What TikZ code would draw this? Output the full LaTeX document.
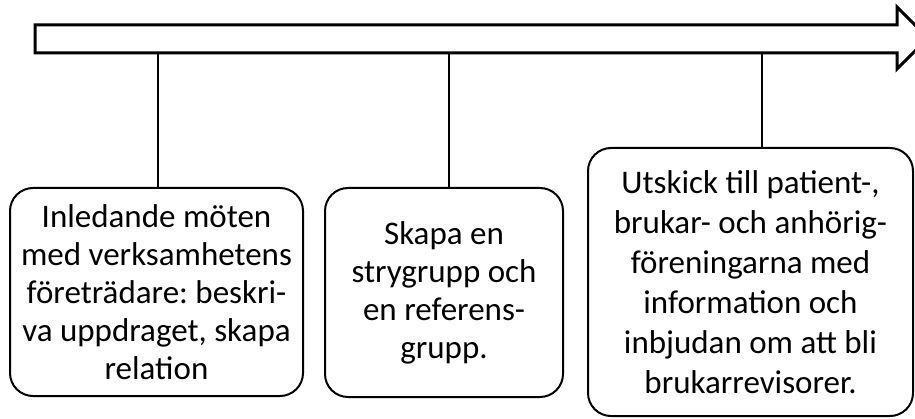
\documentclass[tikz,border=0pt]{standalone}
\usepackage{fontspec}
\setmainfont{Carlito}
\frenchspacing
\begin{document}
\begin{tikzpicture}[x=1pt,y=-1pt,
  stepbox/.style={draw, line width=2pt, rounded corners=23pt, align=center,
    inner sep=0pt, font=\fontsize{33}{38}\selectfont},
  tick/.style={draw, line width=1.2pt}]
\useasboundingbox (0,0) rectangle (915,419);
\clip (0,0) rectangle (915,419);
% timeline arrow
\draw[line width=3pt, line join=miter] (35,25) -- (897,25) -- (897,7) -- (928,38)
  -- (897,69) -- (897,53) -- (35,53) -- cycle;
% steps
\node[stepbox, minimum width=293pt, minimum height=208pt] (b1) at (156.5,292)
  {Inledande möten\\med verksamhetens\\företrädare: beskri-\\va uppdraget, skapa\\relation};
\node[stepbox, minimum width=238pt, minimum height=209pt] (b2) at (444,292.5)
  {Skapa en\\strygrupp och\\en referens-\\grupp.};
\node[stepbox, minimum width=325pt, minimum height=268pt,
  font=\fontsize{33}{40}\selectfont] (b3) at (750.5,282)
  {Utskick till patient-,\\brukar- och anhörig-\\föreningarna med\\information och\\inbjudan om att bli\\brukarrevisorer.};
% ticks from the arrow
\coordinate (t1) at (158,53);
\coordinate (t2) at (449,53);
\coordinate (t3) at (762,53);
\draw[tick] (t1) -- (t1 |- b1.north);
\draw[tick] (t2) -- (t2 |- b2.north);
\draw[tick] (t3) -- (t3 |- b3.north);
\end{tikzpicture}
\end{document}
